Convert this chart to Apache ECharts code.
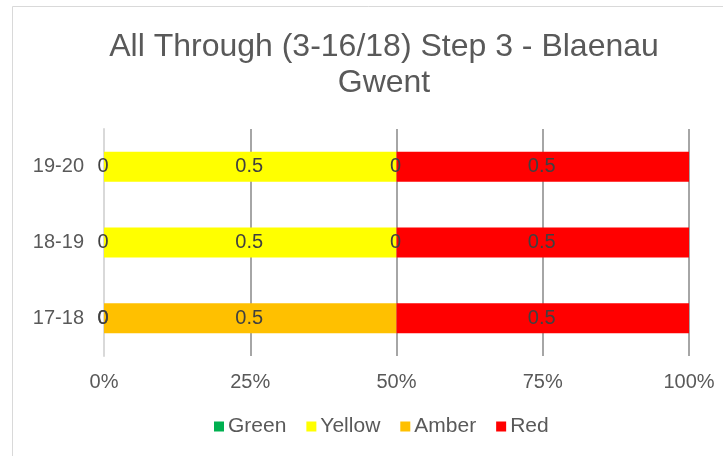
<!DOCTYPE html>
<html>
<head>
<meta charset="utf-8">
<script src="https://cdn.jsdelivr.net/npm/echarts@6/dist/echarts.min.js"></script>
<style>html,body{margin:0;padding:0;background:#fff}#c{width:723px;height:456px}</style>
</head>
<body>
<div id="c"></div>
<script>
var categories = ['17-18', '18-19', '19-20'];
var seriesNames = ['Green', 'Yellow', 'Amber', 'Red'];
var green = [0, 0, 0];
var yellow = [0, 0.5, 0.5];
var amber = [0.5, 0, 0];
var red = [0.5, 0.5, 0.5];
var tickLabels = ['0%', '25%', '50%', '75%', '100%'];

var colors = ['#00B050', '#FFFF00', '#FFC000', '#FF0000'];
var values = [green, yellow, amber, red];
var font = 'Liberation Sans, Arial, sans-serif';

var chart = echarts.init(document.getElementById('c'), null, {renderer: 'canvas'});
var series = seriesNames.map(function (n, i) {
  return {
    name: n,
    type: 'bar',
    stack: 'total',
    barWidth: 30,
    data: values[i],
    itemStyle: {color: colors[i]},
    label: {
      show: true,
      position: 'inside',
      color: '#404040',
      fontSize: 20,
      fontFamily: font,
      offset: [-1, 0],
      formatter: function (p) { return String(p.value); }
    },
    emphasis: {disabled: true}
  };
});
chart.setOption({
  animation: false,
  color: colors,
  graphic: [{
    type: 'rect',
    shape: {x: 12.5, y: 6.5, width: 760, height: 500},
    style: {fill: 'none', stroke: '#d9d9d9', lineWidth: 1},
    silent: true,
    z: -10
  }],
  title: {
    text: 'All Through (3-16/18) Step 3 - Blaenau\nGwent',
    left: 379,
    textAlign: 'center',
    top: 24,
    textStyle: {fontFamily: font, fontSize: 32, fontWeight: 'normal', color: '#595959', lineHeight: 36}
  },
  legend: {
    data: seriesNames,
    left: 214,
    top: 416,
    padding: 0,
    icon: 'rect',
    itemWidth: 10,
    itemHeight: 10,
    itemGap: 20,
    textStyle: {fontFamily: font, fontSize: 21, color: '#595959', padding: [0, 0, 0, -1]}
  },
  grid: {left: 104, right: 34, top: 129, bottom: 100, containLabel: false},
  xAxis: {
    type: 'value',
    min: 0,
    max: 1,
    interval: 0.25,
    axisLine: {show: false},
    axisTick: {show: false},
    splitLine: {lineStyle: {color: '#a6a6a6', width: 2}},
    axisLabel: {
      fontFamily: font, fontSize: 20, color: '#595959', margin: 16,
      formatter: function (v) { return tickLabels[Math.round(v / 0.25)]; }
    }
  },
  yAxis: {
    type: 'category',
    data: categories,
    axisLine: {show: true, lineStyle: {color: '#d9d9d9', width: 2}},
    axisTick: {show: false},
    axisLabel: {fontFamily: font, fontSize: 20, color: '#595959', margin: 20}
  },
  series: series
});
</script>
</body>
</html>
